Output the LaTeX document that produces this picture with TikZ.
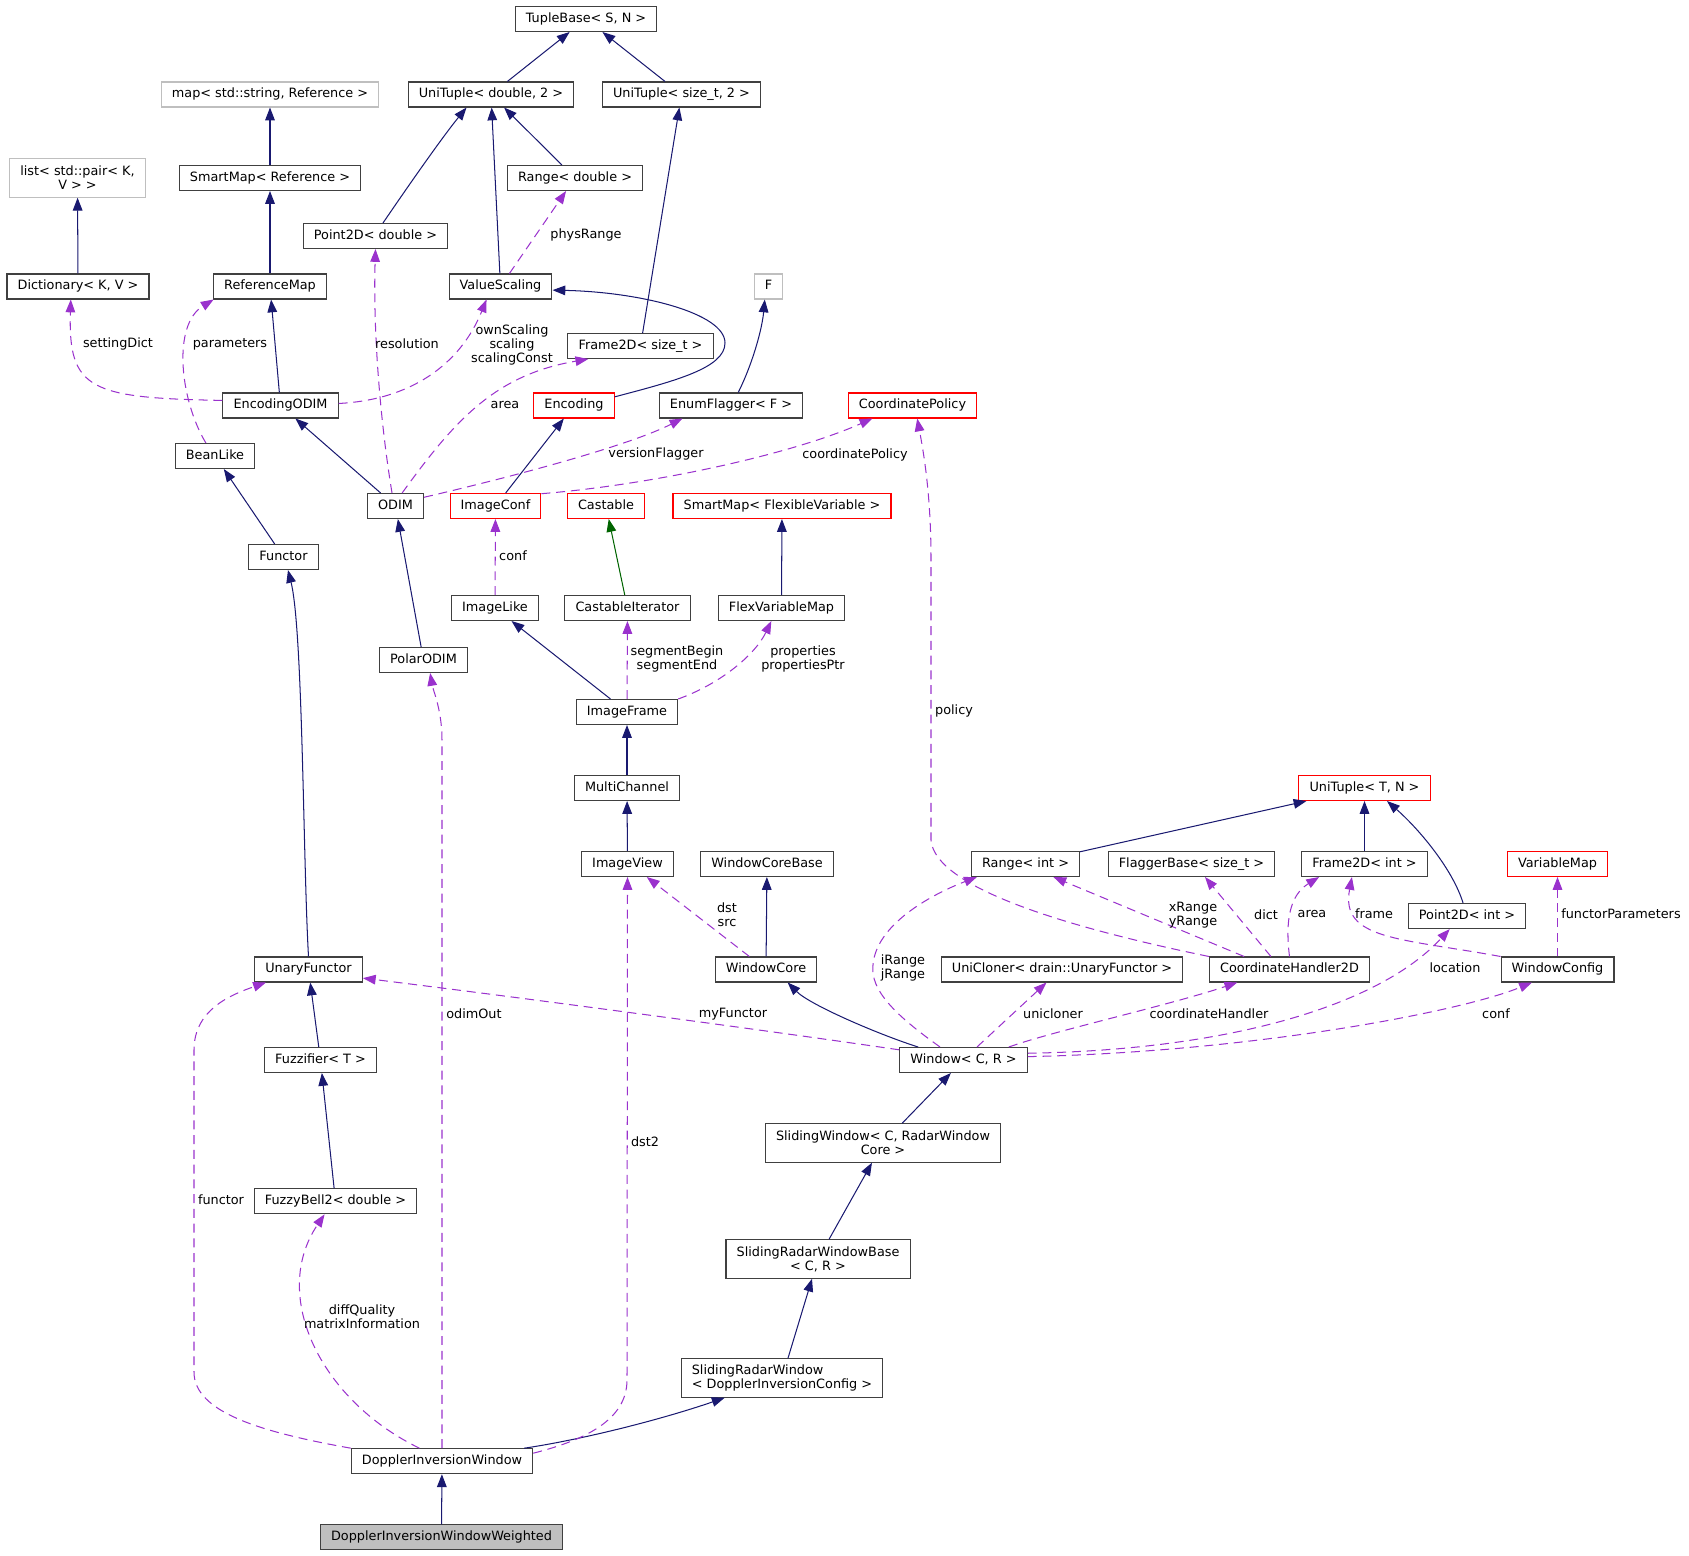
\documentclass[tikz,border=0pt]{standalone}
\usepackage{fontspec}
\setmainfont{DejaVu Sans}
\usepackage{tikz}
\usetikzlibrary{arrows.meta}
\definecolor{azulHer}{HTML}{191970}
\definecolor{verdeHer}{HTML}{006400}
\definecolor{moradoUso}{HTML}{9A32CD}
\definecolor{grisBorde}{HTML}{404040}
\definecolor{grisClaro}{HTML}{BFBFBF}
\definecolor{rojoT}{HTML}{FF0000}

\begin{document}
\begin{tikzpicture}[x=0.78pt,y=-0.78pt,
    clase/.style={draw=grisBorde,line width=0.8pt,fill=white,font=\fontsize{10}{11}\selectfont,
      inner xsep=8.3pt,inner ysep=3pt,minimum height=19.5pt,text height=7.6pt,text depth=2.2pt},
    clasedos/.style={draw=grisBorde,line width=0.8pt,fill=white,font=\fontsize{10}{11}\selectfont,
      inner xsep=8.3pt,inner ysep=3pt,minimum height=30pt,align=center},
    nodoc/.style={clase,draw=grisClaro},
    truncada/.style={clase,draw=rojoT},
    actualcls/.style={clase,fill=grisClaro},
    her/.style={draw=azulHer,line width=0.8pt,-{Triangle[length=10pt,width=7.5pt]}},
    herverde/.style={her,draw=verdeHer},
    uso/.style={draw=moradoUso,line width=0.8pt,dash pattern=on 7pt off 4.5pt,-{Triangle[length=10pt,width=7.5pt]}},
    etiq/.style={font=\fontsize{10}{11}\selectfont,align=center,inner sep=1pt}]
    \useasboundingbox (0,0) rectangle (1689,1556);
    % clases
    \node[clase] (tuplebase) at (586,19) {TupleBase< S, N >};
    \node[clase] (unitupledbl) at (491,94.5) {UniTuple< double, 2 >};
    \node[clase] (unituplesz) at (681.5,94.5) {UniTuple< size\_t, 2 >};
    \node[nodoc] (mapref) at (270,94.5) {map< std::string, Reference >};
    \node[clasedos,draw=grisClaro] (listpair) at (77.5,178) {list< std::pair< K,\\V > >};
    \node[clase] (smartmapref) at (270,178) {SmartMap< Reference >};
    \node[clase] (rangedbl) at (575,178) {Range< double >};
    \node[clase] (pointdbl) at (375.5,236) {Point2D< double >};
    \node[clase] (dictionary) at (78,286.5) {Dictionary< K, V >};
    \node[clase] (refmap) at (270,286.5) {ReferenceMap};
    \node[clase] (valuescaling) at (500.5,286.5) {ValueScaling};
    \node[nodoc] (fnode) at (768.5,286.5) {F};
    \node[clase] (framesz) at (640.5,346) {Frame2D< size\_t >};
    \node[clase] (encodingodim) at (280.5,405.5) {EncodingODIM};
    \node[truncada] (encoding) at (574,405.5) {Encoding};
    \node[clase] (enumflagger) at (731,405.5) {EnumFlagger< F >};
    \node[truncada] (coordpolicy) at (912.5,405.5) {CoordinatePolicy};
    \node[clase] (beanlike) at (215,456) {BeanLike};
    \node[clase] (odim) at (395.5,506) {ODIM};
    \node[truncada] (imageconf) at (495.5,506) {ImageConf};
    \node[truncada] (castable) at (606,506) {Castable};
    \node[truncada] (smartmapflex) at (782,506) {SmartMap< FlexibleVariable >};
    \node[clase] (functor) at (283.5,557) {Functor};
    \node[clase] (imagelike) at (495,608) {ImageLike};
    \node[clase] (castableit) at (627.5,608) {CastableIterator};
    \node[clase] (flexvarmap) at (781.5,608) {FlexVariableMap};
    \node[clase] (polarodim) at (423.5,660) {PolarODIM};
    \node[clase] (imageframe) at (627,712) {ImageFrame};
    \node[clase] (multichannel) at (627,788) {MultiChannel};
    \node[truncada] (unituplet) at (1364.5,788) {UniTuple< T, N >};
    \node[clase] (imageview) at (627.5,864) {ImageView};
    \node[clase] (windowcorebase) at (767,864) {WindowCoreBase};
    \node[clase] (rangeint) at (1025.5,864) {Range< int >};
    \node[clase] (flaggerbase) at (1191.5,864) {FlaggerBase< size\_t >};
    \node[clase] (frameint) at (1364.5,864) {Frame2D< int >};
    \node[truncada] (variablemap) at (1557.5,864) {VariableMap};
    \node[clase] (pointint) at (1467,916) {Point2D< int >};
    \node[clase] (unaryfunctor) at (308.5,969.5) {UnaryFunctor};
    \node[clase] (windowcore) at (766,969.5) {WindowCore};
    \node[clase] (unicloner) at (1062,969.5) {UniCloner< drain::UnaryFunctor >};
    \node[clase] (coordhandler) at (1289.5,969.5) {CoordinateHandler2D};
    \node[clase] (windowconfig) at (1557.5,969.5) {WindowConfig};
    \node[clase] (fuzzifier) at (320.5,1060) {Fuzzifier< T >};
    \node[clase] (window) at (963.5,1060) {Window< C, R >};
    \node[clasedos] (slidingwindow) at (883,1143) {SlidingWindow< C, RadarWindow\\Core >};
    \node[clase] (fuzzybell) at (335.5,1201.3) {FuzzyBell2< double >};
    \node[clasedos] (slidingbase) at (818,1259) {SlidingRadarWindowBase\\< C, R >};
    \node[clasedos,align=left] (slidingradar) at (782,1378) {SlidingRadarWindow\\< DopplerInversionConfig >};
    \node[clase] (dopplerwin) at (442,1461.2) {DopplerInversionWindow};
    \node[actualcls] (dopplerweighted) at (441.5,1537.4) {DopplerInversionWindowWeighted};
    % herencia
    \draw[her] (unitupledbl) -- (tuplebase);
    \draw[her] (unituplesz) -- (tuplebase);
    \draw[her] (smartmapref) -- (mapref);
    \draw[her] (pointdbl.60) .. controls (400,198) and (440,140) .. (unitupledbl.-152);
    \draw[her] (rangedbl) -- (unitupledbl);
    \draw[her] (valuescaling) -- (unitupledbl);
    \draw[her] (dictionary) -- (listpair);
    \draw[her] (refmap) -- (smartmapref);
    \draw[her] (framesz) -- (unituplesz);
    \draw[her] (encoding.12) .. controls (675,381) and (725,368) .. (725,343)
      .. controls (725,313) and (640,292) .. (valuescaling.-4);
    \draw[her] (enumflagger.61) .. controls (752,365) and (762,330) .. (fnode.-106);
    \draw[her] (encodingodim) -- (refmap);
    \draw[her] (odim) -- (encodingodim);
    \draw[her] (functor) -- (beanlike);
    \draw[her] (imageconf) -- (encoding);
    \draw[herverde] (castableit) -- (castable);
    \draw[her] (flexvarmap) -- (smartmapflex);
    \draw[her] (polarodim) -- (odim);
    \draw[her] (imageframe) -- (imagelike);
    \draw[her] (multichannel) -- (imageframe);
    \draw[her] (imageview) -- (multichannel);
    \draw[her] (windowcore) -- (windowcorebase);
    \draw[her] (unaryfunctor.north) .. controls (303,860) and (303,630) .. (functor.-71);
    \draw[her] (fuzzifier) -- (unaryfunctor);
    \draw[her] (fuzzybell) -- (fuzzifier);
    \draw[her] (rangeint) -- (unituplet);
    \draw[her] (frameint) -- (unituplet);
    \draw[her] (pointint.107) .. controls (1453,870) and (1420,830) .. (unituplet.-30);
    \draw[her] (window.164) .. controls (880,1035) and (810,1005) .. (windowcore.-31);
    \draw[her] (slidingwindow) -- (window);
    \draw[her] (slidingbase) -- (slidingwindow);
    \draw[her] (slidingradar) -- (slidingbase);
    \draw[her] (dopplerwin.9) .. controls (580,1440) and (660,1420) .. (slidingradar.-161);
    \draw[her] (dopplerweighted) -- (dopplerwin);
    % relaciones de uso
    \draw[uso] (encodingodim.175) .. controls (90,398) and (68,390) .. (dictionary.-119);
    \draw[uso] (beanlike.125) .. controls (180,400) and (172,325) .. (refmap.-167);
    \draw[uso] (encodingodim.2) .. controls (410,400) and (460,365) .. (valuescaling.-137);
    \draw[uso] (odim.105) .. controls (380,420) and (373,330) .. (pointdbl.south);
    \draw[uso] (odim.63) .. controls (455,420) and (495,375) .. (framesz.-166);
    \draw[uso] (valuescaling) -- (rangedbl);
    \draw[uso] (odim.17) .. controls (520,475) and (630,445) .. (enumflagger.-165);
    \draw[uso] (imageconf.15) .. controls (650,485) and (790,455) .. (coordpolicy.-162);
    \draw[uso] (imagelike) -- (imageconf);
    \draw[uso] (imageframe) -- (castableit);
    \draw[uso] (imageframe.north east) .. controls (720,684) and (755,655) .. (flexvarmap.-128);
    \draw[uso] (coordhandler.north west) .. controls (1080,930) and (935,890) .. (931,840)
      -- (931,560) .. controls (931,500) and (925,460) .. (coordpolicy.-70);
    \draw[uso] (coordhandler.164) -- (rangeint.-25);
    \draw[uso] (coordhandler.145) -- (flaggerbase.-44);
    \draw[uso] (coordhandler.north) .. controls (1285,920) and (1290,895) .. (frameint.-164);
    \draw[uso] (windowconfig.north west) .. controls (1400,938) and (1340,940) .. (frameint.-134);
    \draw[uso] (windowconfig) -- (variablemap);
    \draw[uso] (window.151) .. controls (895,1015) and (870,990) .. (873,965)
      .. controls (876,925) and (930,895) .. (rangeint.-165);
    \draw[uso] (window.44) -- (unicloner.-140);
    \draw[uso] (window.16) .. controls (1050,1032) and (1170,1005) .. (coordhandler.-166);
    \draw[uso] (window.6) .. controls (1230,1050) and (1380,1005) .. (pointint.-143);
    \draw[uso] (window.3) .. controls (1250,1052) and (1460,1012) .. (windowconfig.-153);
    \draw[uso] (window.171) .. controls (750,1028) and (500,995) .. (unaryfunctor.-9);
    \draw[uso] (windowcore.142) -- (imageview.-34);
    \draw[uso] (dopplerwin.north west) .. controls (260,1432) and (194,1412) .. (194,1372)
      -- (194,1050) .. controls (194,1010) and (230,995) .. (unaryfunctor.-163);
    \draw[uso] (dopplerwin.150) .. controls (320,1400) and (270,1295) .. (fuzzybell.-130);
    \draw[uso] (dopplerwin.north) -- (442,740) .. controls (442,710) and (433,690) .. (polarodim.-63);
    \draw[uso] (dopplerwin.5) .. controls (585,1440) and (627,1420) .. (627,1380) -- (imageview.south);
    % etiquetas
    \node[etiq] (lsettingdict) at (118,344) {settingDict};
    \node[etiq] (lparameters) at (230,344) {parameters};
    \node[etiq] (lresolution) at (407,344) {resolution};
    \node[etiq] (lownscaling) at (512,345) {ownScaling\\scaling\\scalingConst};
    \node[etiq] (lphysrange) at (586,235) {physRange};
    \node[etiq] (larea) at (505,405) {area};
    \node[etiq] (lversion) at (656,454) {versionFlagger};
    \node[etiq] (lcoordpolicy) at (855,455) {coordinatePolicy};
    \node[etiq] (lconf) at (513,556) {conf};
    \node[etiq] (lsegment) at (677,659) {segmentBegin\\segmentEnd};
    \node[etiq] (lproperties) at (803,659) {properties\\propertiesPtr};
    \node[etiq] (lpolicy) at (954,711) {policy};
    \node[etiq] (lxrange) at (1193,915) {xRange\\yRange};
    \node[etiq] (ldict) at (1266,915) {dict};
    \node[etiq] (lareaint) at (1312,914) {area};
    \node[etiq] (lframe) at (1374,914) {frame};
    \node[etiq] (lfunctorpar) at (1621,914) {functorParameters};
    \node[etiq] (ldstsrc) at (727,915) {dst\\src};
    \node[etiq] (lirange) at (903,968) {iRange\\jRange};
    \node[etiq] (lunicloner) at (1053,1014) {unicloner};
    \node[etiq] (lcoordhandler) at (1209,1014) {coordinateHandler};
    \node[etiq] (llocation) at (1455,968) {location};
    \node[etiq] (lconfwin) at (1496,1014) {conf};
    \node[etiq] (lmyfunctor) at (733,1014) {myFunctor};
    \node[etiq] (lodimout) at (474,1014) {odimOut};
    \node[etiq] (ldst2) at (645,1142) {dst2};
    \node[etiq] (lfunctor) at (221,1200) {functor};
    \node[etiq] (ldiffquality) at (362,1317) {diffQuality\\matrixInformation};
\end{tikzpicture}
\end{document}
